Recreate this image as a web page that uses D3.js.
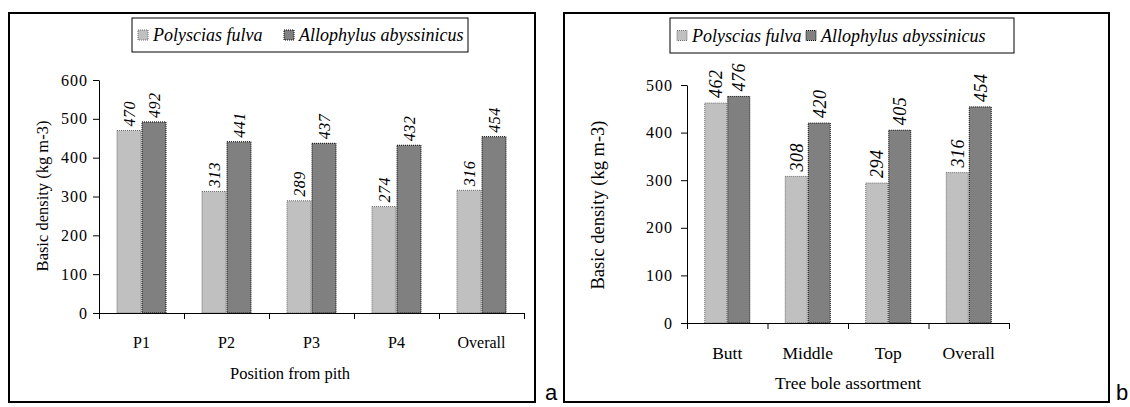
<!DOCTYPE html>
<html>
<head>
<meta charset="utf-8">
<script src="https://cdn.jsdelivr.net/npm/d3@7"></script>
<style>
  html, body { margin: 0; padding: 0; background: #fff; }
  svg { display: block; }
</style>
</head>
<body>
<svg id="chart" width="1130" height="407"></svg>
<script>
// Panel a: position from pith
const catsA = ['P1', 'P2', 'P3', 'P4', 'Overall'];
const polysciasA = [470, 313, 289, 274, 316];
const allophylusA = [492, 441, 437, 432, 454];
const ticksA = [0, 100, 200, 300, 400, 500, 600];

// Panel b: tree bole assortment
const catsB = ['Butt', 'Middle', 'Top', 'Overall'];
const polysciasB = [462, 308, 294, 316];
const allophylusB = [476, 420, 405, 454];
const ticksB = [0, 100, 200, 300, 400, 500];

const seriesNames = ['Polyscias fulva', 'Allophylus abyssinicus'];
const yTitle = 'Basic density (kg m-3)';

const fills = ['#c0c0c0', '#808080'];
const strokes = ['#6a6a6a', '#000'];
const SERIF = '"Liberation Serif", "Times New Roman", serif';

const svg = d3.select('#chart');

function drawPanel(p) {
    const g = svg.append('g').attr('font-family', SERIF);

    // outer frame
    g.append('rect')
        .attr('x', p.frame[0]).attr('y', p.frame[1])
        .attr('width', p.frame[2] - p.frame[0]).attr('height', p.frame[3] - p.frame[1])
        .attr('fill', 'none').attr('stroke', '#000').attr('stroke-width', 2);

    // panel letter
    g.append('text')
        .attr('x', p.letter[0]).attr('y', p.letter[1])
        .attr('font-family', '"Liberation Sans", Arial, sans-serif')
        .attr('font-size', 22)
        .text(p.letterText);

    const x = d3.scaleBand().domain(p.cats).range([p.x0, p.x1]);
    const xEdge = d3.scaleLinear().domain([0, p.cats.length]).range([p.x0, p.x1]);
    const y = d3.scaleLinear().domain([0, p.ticks[p.ticks.length - 1]]).range([p.yZero, p.yTop]);
    const bw = p.barW;

    // bars + value labels
    [p.s1, p.s2].forEach((vals, si) => {
        g.append('g').selectAll('rect')
            .data(vals)
            .join('rect')
            .attr('x', (d, i) => x(p.cats[i]) + x.bandwidth() / 2 - bw + si * bw + 0.5)
            .attr('y', d => y(d))
            .attr('width', bw - 1)
            .attr('height', d => y(0) - y(d))
            .attr('fill', fills[si])
            .attr('stroke', strokes[si])
            .attr('stroke-width', 1)
            .attr('stroke-dasharray', '1,1');

        g.append('g').selectAll('text')
            .data(vals)
            .join('text')
            .attr('transform', (d, i) => {
                const cx = x(p.cats[i]) + x.bandwidth() / 2 - bw / 2 + si * bw;
                return `translate(${cx},${y(d) - p.labGap}) rotate(-90)`;
            })
            .attr('dy', '0.35em')
            .attr('font-family', SERIF)
            .attr('font-size', p.valFont)
            .attr('font-style', 'italic')
            .attr('letter-spacing', 0.5)
            .text(d => d);
    });

    // y axis
    const ya = g.append('g')
        .attr('transform', `translate(${p.x0},0)`)
        .call(d3.axisLeft(y).tickValues(p.ticks).tickSize(6).tickSizeOuter(0).tickPadding(p.tickPad));
    ya.attr('font-family', SERIF);
    ya.selectAll('text').attr('font-size', 16).attr('letter-spacing', 1).attr('fill', '#000');
    ya.selectAll('line, path').attr('stroke', '#000');

    // x axis with ticks on band edges
    const xa = g.append('g')
        .attr('transform', `translate(0,${p.yZero})`)
        .call(d3.axisBottom(xEdge).tickValues(d3.range(p.cats.length + 1)).tickSize(6).tickSizeOuter(0).tickFormat(''));
    xa.selectAll('line, path').attr('stroke', '#000');

    // category labels
    g.append('g').selectAll('text')
        .data(p.cats)
        .join('text')
        .attr('x', d => x(d) + x.bandwidth() / 2)
        .attr('y', p.catY)
        .attr('text-anchor', 'middle')
        .attr('font-family', SERIF)
        .attr('font-size', p.catFont)
        .text(d => d);

    // axis titles
    g.append('text')
        .attr('x', p.xTitlePos[0]).attr('y', p.xTitlePos[1])
        .attr('text-anchor', 'middle')
        .attr('font-family', SERIF)
        .attr('font-size', p.xTitleFont)
        .text(p.xTitle);

    g.append('text')
        .attr('transform', `translate(${p.yTitlePos[0]},${p.yTitlePos[1]}) rotate(-90)`)
        .attr('text-anchor', 'middle')
        .attr('dy', '0.35em')
        .attr('font-family', SERIF)
        .attr('font-size', p.yTitleFont)
        .text(yTitle);

    // legend
    const L = p.legend;
    g.append('rect')
        .attr('x', L.box[0]).attr('y', L.box[1])
        .attr('width', L.box[2] - L.box[0]).attr('height', L.box[3] - L.box[1])
        .attr('fill', '#fff').attr('stroke', '#000').attr('stroke-width', 1);
    const cy = (L.box[1] + L.box[3]) / 2;
    seriesNames.forEach((name, si) => {
        g.append('rect')
            .attr('x', L.sq[si]).attr('y', cy - 5)
            .attr('width', 10).attr('height', 10)
            .attr('fill', fills[si])
            .attr('stroke', strokes[si])
            .attr('stroke-dasharray', '1,1');
        g.append('text')
            .attr('x', L.sq[si] + 15).attr('y', cy)
            .attr('dy', '0.35em')
            .attr('font-family', SERIF)
            .attr('font-size', 18)
            .attr('font-style', 'italic')
            .text(name);
    });
}

drawPanel({
    cats: catsA, s1: polysciasA, s2: allophylusA, ticks: ticksA,
    frame: [9, 13, 535, 402], letter: [545, 400], letterText: 'a',
    x0: 99, x1: 524, yZero: 313, yTop: 80, barW: 25, labGap: 4, valFont: 16,
    tickPad: 5, catY: 348, catFont: 16,
    xTitle: 'Position from pith', xTitlePos: [290, 379], xTitleFont: 16.5,
    yTitlePos: [42, 196], yTitleFont: 16.5,
    legend: { box: [132, 18, 468, 52], sq: [138, 284] }
});

drawPanel({
    cats: catsB, s1: polysciasB, s2: allophylusB, ticks: ticksB,
    frame: [564, 13, 1109, 402], letter: [1116, 400], letterText: 'b',
    x0: 687, x1: 1009, yZero: 323, yTop: 85, barW: 23, labGap: 5, valFont: 18,
    tickPad: 8, catY: 359, catFont: 17.5,
    xTitle: 'Tree bole assortment', xTitlePos: [848, 389], xTitleFont: 17.5,
    yTitlePos: [598, 205], yTitleFont: 18.5,
    legend: { box: [670, 18, 1014, 53], sq: [677, 806] }
});
</script>
</body>
</html>
